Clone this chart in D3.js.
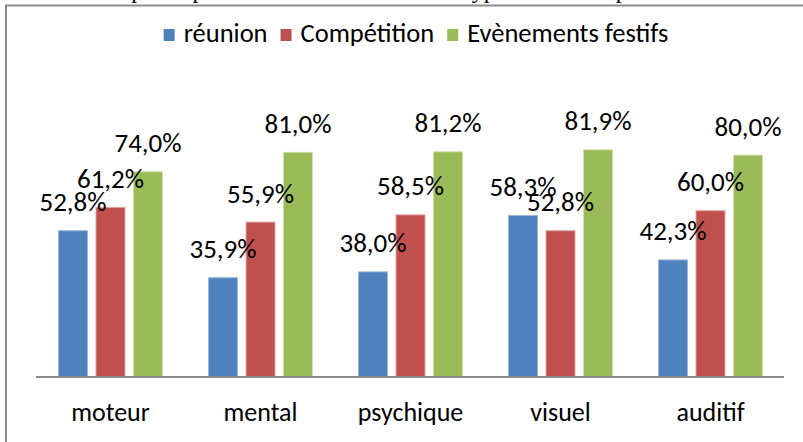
<html>
<head>
<meta charset='utf-8' />
<title>Activités par type de handicap</title>
<script src="https://cdn.jsdelivr.net/npm/d3@7"></script>
<style>
body { margin:0; background:#ffffff; }
text { font-family: Carlito, Calibri, "Liberation Sans", Arial, sans-serif; fill:#000; }
</style>
</head>
<body>
<script>

var categories = ["moteur","mental","psychique","visuel","auditif"];
var series = ["réunion","Compétition","Evènements festifs"];
var reunion = [52.8, 35.9, 38.0, 58.3, 42.3];
var competition = [61.2, 55.9, 58.5, 52.8, 60.0];
var festifs = [74.0, 81.0, 81.2, 81.9, 80.0];
var colors = ["#4f81bd","#c0504d","#9bbb59"];
var edges = ["#9db8dc","#e0a3a1","#cfe0ac"];

var width = 803, height = 442;
var margin = {top: 99, left: 35.5, right: 17.5, bottom: 65};

var svg = d3.select("body").append("svg")
	.attr("width", width).attr("height", height)
	.style("display","block");

svg.append("rect").attr("width",width).attr("height",height).attr("fill","#ffffff");

// title of the page, cut by the crop
svg.append("text")
	.attr("x", 100).attr("y", -2.5)
	.style("font-family","'Liberation Serif', 'Times New Roman', serif")
	.attr("font-size","24px")
	.text("La participation aux activités selon le type de handicap");

// frame
svg.append("rect")
	.attr("x",6).attr("y",5.5)
	.attr("width",1000).attr("height",1000)
	.attr("fill","none").attr("stroke","#8c8c8c").attr("stroke-width",2);

var values = [reunion, competition, festifs];
var data = [];
categories.forEach(function(c,i) {
	series.forEach(function(s,j) {
		data.push({cat:c, serie:j, value:values[j][i]});
	});
});

var x0 = d3.scaleBand().domain(categories)
	.range([margin.left, width - margin.right]).paddingInner(0).paddingOuter(0);
var x1 = d3.scaleBand().domain(d3.range(series.length))
	.range([22.5, 127.5]).paddingInner(0.2).paddingOuter(0);
var y = d3.scaleLinear().domain([0,100]).range([height - margin.bottom, margin.top]);

var fmt = function(v) { return v.toFixed(1).replace(".", ",") + "%"; };

var bars = svg.append("g");
bars.selectAll("rect").data(data).enter().append("rect")
	.attr("x", d => x0(d.cat) + x1(d.serie) + 0.5)
	.attr("y", d => y(d.value) + 0.5)
	.attr("width", x1.bandwidth() - 1)
	.attr("height", d => y(0) - y(d.value) - 0.5)
	.attr("fill", d => colors[d.serie])
	.attr("stroke", d => edges[d.serie])
	.attr("stroke-width", 1);

// x axis line and category labels
var xAxis = svg.append("g")
	.attr("transform","translate(0," + y(0) + ")")
	.call(d3.axisBottom(x0).tickSize(0));
xAxis.select(".domain").attr("stroke","#898989").attr("stroke-width",2).attr("d","M36,0H784");
xAxis.selectAll("text").attr("font-size","26px").attr("y",44).attr("dy","0")
	.style("font-family","Carlito, Calibri, 'Liberation Sans', Arial, sans-serif").attr("fill","#000");

// value labels
svg.append("g").selectAll("text").data(data).enter().append("text")
	.attr("x", d => x0(d.cat) + x1(d.serie) + x1.bandwidth()/2)
	.attr("y", d => y(d.value) - 19)
	.attr("text-anchor","middle")
	.attr("font-size","27px")
	.text(d => fmt(d.value));

// legend
var legend = svg.append("g");
var lx = 0;
series.forEach(function(s,j) {
	var g = legend.append("g").attr("transform","translate(" + lx + ",0)");
	g.append("rect").attr("x",0).attr("y",-13).attr("width",11).attr("height",12).attr("fill",colors[j]);
	var t = g.append("text").attr("x",20).attr("y",0).attr("font-size","26.5px").text(s);
	lx += 20 + t.node().getComputedTextLength() + 13;
});
lx -= 13;
legend.attr("transform","translate(" + (416 - lx/2) + ",42)");

</script>
</body>
</html>
